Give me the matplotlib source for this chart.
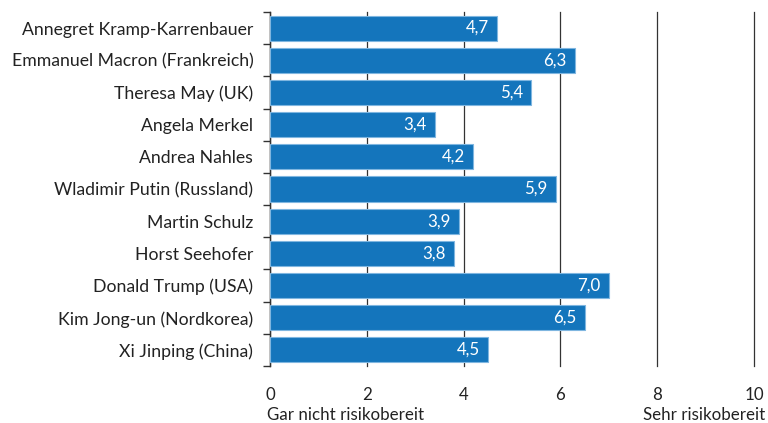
import matplotlib.pyplot as plt
import numpy as np

# %% Data

names = ['Annegret Kramp-Karrenbauer', 'Emmanuel Macron (Frankreich)',
         'Theresa May (UK)', 'Angela Merkel', 'Andrea Nahles',
         'Wladimir Putin (Russland)', 'Martin Schulz', 'Horst Seehofer',
         'Donald Trump (USA)', 'Kim Jong-un (Nordkorea)', 'Xi Jinping (China)']
values = [4.7, 6.3, 5.4, 3.4, 4.2, 5.9, 3.9, 3.8, 7.0, 6.5, 4.5]
xticks = [0, 2, 4, 6, 8, 10]

plt.rcParams['font.family'] = ['Lato', 'DejaVu Sans']
fs = 12.2

# %% Plot

fig = plt.figure(figsize=(7.68, 4.23), dpi=100)
ax = fig.add_axes([270 / 768, 1 - 366 / 423, 484 / 768, 354 / 423])

y = np.arange(len(names))
ax.barh(y, values, height=0.78, color='#1475bc', edgecolor='#7fb6e0',
        linewidth=0.8, zorder=3)

for yi, v in zip(y, values):
    ax.text(v - 0.17, yi, f'{v:.1f}'.replace('.', ','), ha='right',
            va='center', color='white', fontsize=fs, zorder=4)

ax.set_xlim(0, 10)
ax.set_ylim(len(names) - 0.5, -0.5)
ax.set_yticks(y)
ax.set_yticklabels(names, fontsize=12.7, color='#222222')
ax.set_yticks(np.arange(len(names) + 1) - 0.5, minor=True)
ax.tick_params(axis='y', which='major', length=0, pad=12)
ax.tick_params(axis='y', which='minor', length=5, width=1, color='#333333')

ax.set_xticks(xticks)
ax.set_xticklabels([str(t) for t in xticks], fontsize=fs, color='#222222')
ax.tick_params(axis='x', length=0, pad=15)
ax.grid(axis='x', color='#333333', linewidth=0.9, zorder=1)
for line in ax.get_xgridlines():
    line.set_clip_on(False)

for s in ['top', 'right', 'bottom']:
    ax.spines[s].set_visible(False)
ax.spines['left'].set_color('#333333')
ax.spines['left'].set_linewidth(1)

fig.text(267 / 768, 1 - 415 / 423, 'Gar nicht risikobereit', ha='left',
         va='center', fontsize=fs, color='#222222')
fig.text(765 / 768, 1 - 415 / 423, 'Sehr risikobereit', ha='right',
         va='center', fontsize=fs, color='#222222')

fig.savefig('out.png', dpi=100)
